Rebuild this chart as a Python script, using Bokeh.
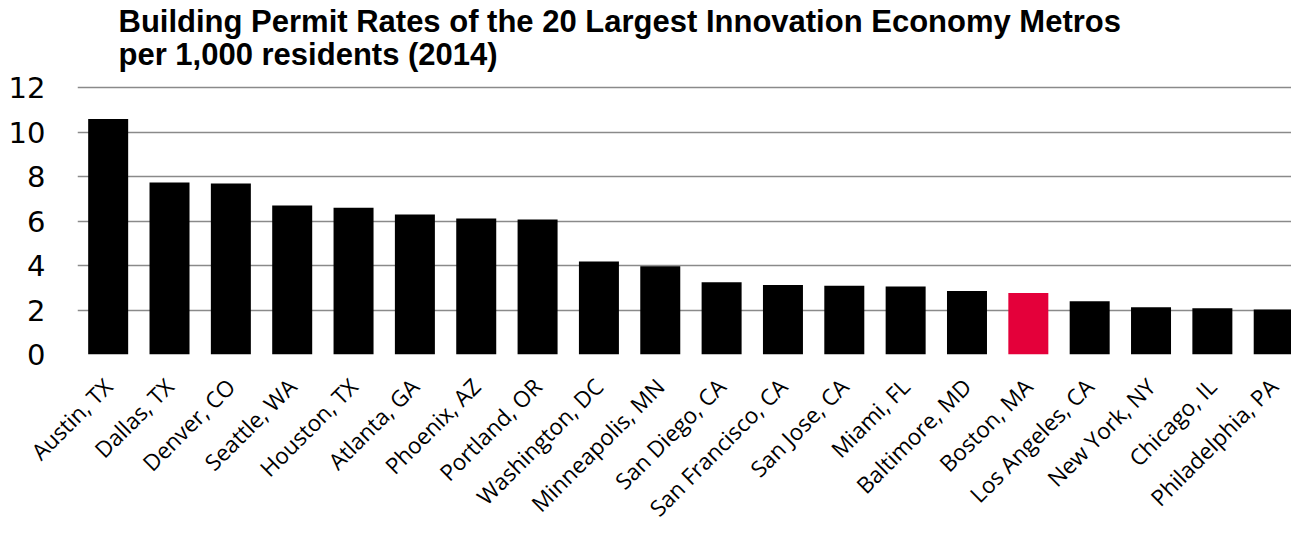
import math
from bokeh.plotting import figure
from bokeh.models import Range1d, FixedTicker, Label, ColumnDataSource
from bokeh.embed import file_html
from bokeh.resources import INLINE

# ---- data ----
metros = ["Austin, TX", "Dallas, TX", "Denver, CO", "Seattle, WA", "Houston, TX",
          "Atlanta, GA", "Phoenix, AZ", "Portland, OR", "Washington, DC",
          "Minneapolis, MN", "San Diego, CA", "San Francisco, CA", "San Jose, CA",
          "Miami, FL", "Baltimore, MD", "Boston, MA", "Los Angeles, CA",
          "New York, NY", "Chicago, IL", "Philadelphia, PA"]
permits_per_1000 = [10.6, 7.74, 7.70, 6.71, 6.60, 6.30, 6.12, 6.08, 4.18, 3.97,
                    3.25, 3.13, 3.09, 3.06, 2.86, 2.77, 2.40, 2.13, 2.08, 2.02]
highlight_metro = "Boston, MA"
y_ticks = [0, 2, 4, 6, 8, 10, 12]
title_lines = ["Building Permit Rates of the 20 Largest Innovation Economy Metros",
               "per 1,000 residents (2014)"]

BAR = "#000000"
RED = "#E4003A"
GRID = "#8a8a8a"

xs = list(range(len(metros)))
colors = [RED if m == highlight_metro else BAR for m in metros]
src = ColumnDataSource(dict(x=xs, top=permits_per_1000, color=colors, name=metros))

p = figure(width=1291, height=537, output_backend="svg", toolbar_location=None,
           x_range=Range1d(-0.5, 19.29), y_range=Range1d(0, 15.93),
           min_border_left=77, min_border_right=0, min_border_top=0,
           min_border_bottom=183)
p.outline_line_color = None
p.background_fill_color = "white"
p.border_fill_color = "white"

p.vbar(x="x", top="top", width=0.652, fill_color="color", line_color=None, source=src)

# y axis
p.yaxis.ticker = FixedTicker(ticks=y_ticks)
p.yaxis.axis_line_color = None
p.yaxis.major_tick_line_color = None
p.yaxis.minor_tick_line_color = None
p.yaxis.major_label_text_font = "DejaVu Sans"
p.yaxis.major_label_text_font_size = "29px"
p.yaxis.major_label_text_color = "black"
p.yaxis.major_label_standoff = 26
p.ygrid.ticker = FixedTicker(ticks=y_ticks)
p.ygrid.grid_line_color = GRID
p.ygrid.grid_line_width = 1.5
p.xgrid.grid_line_color = None

# x axis
p.xaxis.ticker = FixedTicker(ticks=xs)
p.xaxis.major_label_overrides = {i: m for i, m in zip(xs, metros)}
p.xaxis.axis_line_color = None
p.xaxis.major_tick_line_color = None
p.xaxis.minor_tick_line_color = None
p.xaxis.major_label_orientation = math.pi / 4
p.xaxis.major_label_text_font = "Open Sans"
p.xaxis.major_label_text_font_size = "22.5px"
p.xaxis.major_label_text_color = "black"
p.xaxis.major_label_standoff = 22

# title (two lines)
p.add_layout(Label(x=41, y=333, x_units="screen", y_units="screen", text=title_lines[0],
                   text_font="Liberation Sans", text_font_style="bold",
                   text_font_size="31px", text_color="black", text_baseline="alphabetic"))
p.add_layout(Label(x=41, y=300, x_units="screen", y_units="screen", text=title_lines[1],
                   text_font="Liberation Sans", text_font_style="bold",
                   text_font_size="31px", text_color="black", text_baseline="alphabetic"))

open("out.html", "w").write(file_html(p, INLINE))
